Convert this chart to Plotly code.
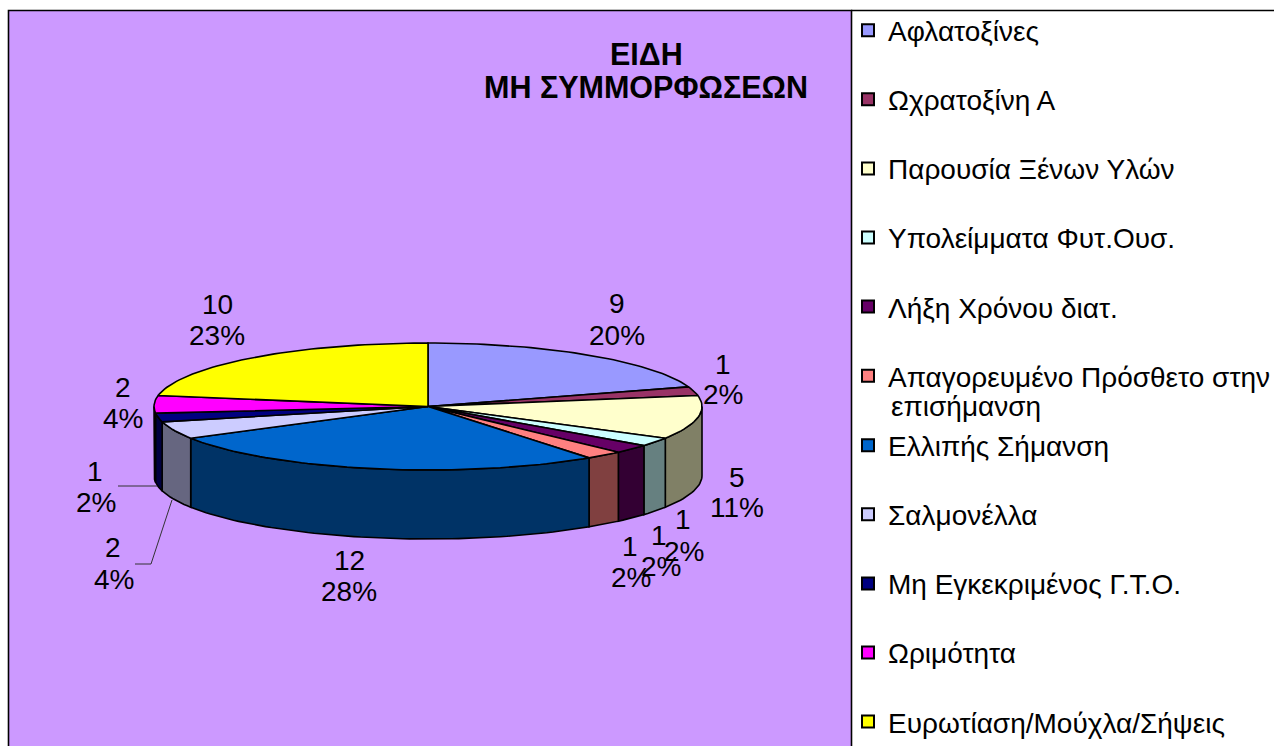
import math
import plotly.graph_objects as go

# ---- data ----
categories = ["Αφλατοξίνες", "Ωχρατοξίνη Α", "Παρουσία Ξένων Υλών", "Υπολείμματα Φυτ.Ουσ.",
              "Λήξη Χρόνου διατ.", "Απαγορευμένο Πρόσθετο στην", "Ελλιπής Σήμανση",
              "Σαλμονέλλα", "Μη Εγκεκριμένος Γ.Τ.Ο.", "Ωριμότητα", "Ευρωτίαση/Μούχλα/Σήψεις"]
counts = [9, 1, 5, 1, 1, 1, 12, 2, 1, 2, 10]
percent_labels = ["20%", "2%", "11%", "2%", "2%", "2%", "28%", "4%", "2%", "4%", "23%"]

# ---- styles ----
top_colors = ["#9999FF", "#993366", "#FFFFCC", "#CCFFFF", "#660066", "#FF8080",
              "#0066CC", "#CCCCFF", "#000080", "#FF00FF", "#FFFF00"]
side_colors = ["#4D4D80", "#4D1A33", "#808066", "#668080", "#330033", "#804040",
               "#003366", "#666680", "#000040", "#800080", "#808000"]
BG = "#CC99FF"
FONT = "Liberation Sans"
TEXT_SIZE = 28

# ---- pie layout (pixels) ----
CX, CY, RX, RY, DEPTH = 428, 406.5, 274, 63.5, 69

# label positions: (x count, y count, x pct, y pct)
label_pos = [(617, 303, 617, 335), (723, 364, 723, 394), (737, 477, 737, 507),
             (683, 519, 684, 551), (659, 535, 661, 566), (630, 546, 631, 577),
             (349, 560, 349, 591), (113, 547, 114, 579), (95, 471, 96, 502),
             (123, 387, 123, 418), (217, 304, 217, 335)]


def pt(t_deg, dy=0):
    t = math.radians(t_deg)
    return CX + RX * math.sin(t), CY - RY * math.cos(t) + dy


def arc(a, b, dy=0):
    n = max(2, int(abs(b - a) / 1.5) + 2)
    return [pt(a + (b - a) * i / (n - 1), dy) for i in range(n)]


fig = go.Figure()
total = sum(counts)
angles = [0]
for c in counts:
    angles.append(angles[-1] + 360 * c / total)

# side walls
for i in range(len(counts)):
    a, b = max(angles[i], 90), min(angles[i + 1], 270)
    if b <= a:
        continue
    pts = arc(a, b) + arc(b, a, DEPTH)
    pts.append(pts[0])
    fig.add_trace(go.Scatter(x=[p[0] for p in pts], y=[p[1] for p in pts], mode="lines",
                             fill="toself", fillcolor=side_colors[i],
                             line=dict(color="black", width=1.6),
                             showlegend=False, hoverinfo="skip"))
# top slices
for i in range(len(counts)):
    pts = [(CX, CY)] + arc(angles[i], angles[i + 1]) + [(CX, CY)]
    fig.add_trace(go.Scatter(x=[p[0] for p in pts], y=[p[1] for p in pts], mode="lines",
                             fill="toself", fillcolor=top_colors[i],
                             line=dict(color="black", width=1.6),
                             showlegend=False, hoverinfo="skip"))
# legend entries
for i, name in enumerate(categories):
    fig.add_trace(go.Scatter(x=[None], y=[None], mode="markers", name=name,
                             legendgroup=str(i), legend="legend" if i <= 5 else "legend2",
                             marker=dict(symbol="square", size=16, color=top_colors[i],
                                         line=dict(color="black", width=1.5))))

annotations = []
for i, (x1, y1, x2, y2) in enumerate(label_pos):
    annotations.append(dict(x=x1, y=y1, text=str(counts[i]), showarrow=False,
                            font=dict(family=FONT, size=TEXT_SIZE, color="black")))
    annotations.append(dict(x=x2, y=y2, text=percent_labels[i], showarrow=False,
                            font=dict(family=FONT, size=TEXT_SIZE, color="black")))
annotations.append(dict(x=646, y=54, text="<b>ΕΙΔΗ</b>", showarrow=False,
                        font=dict(family=FONT, size=30.5, color="black")))
annotations.append(dict(x=646, y=87, text="<b>ΜΗ ΣΥΜΜΟΡΦΩΣΕΩΝ</b>", showarrow=False,
                        font=dict(family=FONT, size=30.5, color="black")))
annotations.append(dict(x=889, y=406, text="επισήμανση", showarrow=False, xanchor="left",
                        font=dict(family=FONT, size=TEXT_SIZE, color="black")))

shapes = [
    dict(type="rect", x0=8.5, y0=10.5, x1=851.5, y1=760, line=dict(color="black", width=1.6),
         fillcolor=BG, layer="below"),
    dict(type="line", x0=851, y0=10.5, x1=1274, y1=10.5, line=dict(color="black", width=1.5)),
    dict(type="path", path="M118,486 L157,486", line=dict(color="#333333", width=1)),
    dict(type="path", path="M135,564 L151,564 L172,500", line=dict(color="#333333", width=1)),
]

leg_common = dict(bgcolor="rgba(0,0,0,0)", borderwidth=0, xanchor="left", yanchor="top",
                  font=dict(family=FONT, size=TEXT_SIZE, color="black"),
                  tracegroupgap=29.7, itemsizing="constant", valign="middle",
                  x=848 / 1274, itemclick=False, itemdoubleclick=False)

fig.update_layout(
    width=1274, height=746, margin=dict(l=0, r=0, t=0, b=0, autoexpand=False), autosize=False,
    paper_bgcolor="white", plot_bgcolor="rgba(0,0,0,0)",
    xaxis=dict(range=[0, 1274], visible=False, fixedrange=True),
    yaxis=dict(range=[746, 0], visible=False, fixedrange=True),
    annotations=annotations, shapes=shapes,
    legend=dict(y=1 - 5.5 / 746, **leg_common),
    legend2=dict(y=1 - 420.5 / 746, **leg_common),
)
fig.write_html("out.html", config={"displayModeBar": False},
               post_script="document.body.style.margin='0';document.body.style.overflow='hidden';")
